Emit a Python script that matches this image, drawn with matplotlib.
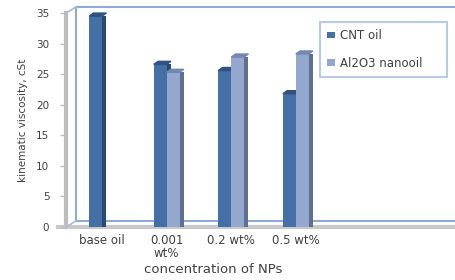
import matplotlib
matplotlib.use("Agg")
import matplotlib.pyplot as plt
import matplotlib.transforms as mtransforms
from matplotlib.patches import Rectangle, Patch, Polygon
from matplotlib.lines import Line2D
import numpy as np

categories = ["base oil", "0.001\nwt%", "0.2 wt%", "0.5 wt%"]
cnt_oil = [34.5, 26.6, 25.6, 21.8]
al2o3_nanooil = [np.nan, 25.3, 27.8, 28.3]
series_names = ["CNT oil", "Al2O3 nanooil"]
yticks = [0, 5, 10, 15, 20, 25, 30, 35]

front_colors = ["#4470a6", "#94a8cf"]
side_colors = ["#2b4a73", "#5f6f8d"]
top_colors = ["#2f5280", "#7388b0"]

W, H = 456, 280
fig = plt.figure(figsize=(W / 100, H / 100), dpi=100)
ax_l, ax_r, ax_t, ax_b = 66, 456, 13, 227
ax = fig.add_axes([ax_l / W, 1 - ax_b / H, (ax_r - ax_l) / W, (ax_b - ax_t) / H])

x = np.arange(len(categories))
w = 0.2
depth = 0.065
ax.set_xlim(-0.56, 5.48)
ax.set_ylim(0, 35)
dy_units = 35 * 3 / (ax_b - ax_t)

for i, (vals, off) in enumerate([(cnt_oil, -w / 2), (al2o3_nanooil, w / 2)]):
    xs = x + off
    v = np.array(vals, dtype=float)
    ax.bar(xs + w / 2 + depth / 2, v, width=depth, color=side_colors[i], zorder=2 + i)
    ax.bar(xs, v, width=w, color=front_colors[i], zorder=3 + i)
    for xi, vi in zip(xs, v):
        if np.isnan(vi):
            continue
        ax.add_patch(Polygon([[xi - w / 2, vi], [xi + w / 2, vi],
                              [xi + w / 2 + depth, vi + dy_units],
                              [xi - w / 2 + depth, vi + dy_units]],
                             closed=True, color=top_colors[i], zorder=3 + i,
                             clip_on=False))

for s in ax.spines.values():
    s.set_visible(False)
ax.patch.set_alpha(0)

off = mtransforms.ScaledTranslation(10 / 100, 6 / 100, fig.dpi_scale_trans)
wall = Rectangle((0, 0), 1.2, 1, transform=ax.transAxes + off, fill=False,
                 edgecolor="#8eaadb", lw=1.5, zorder=1, clip_on=False)
ax.add_patch(wall)
ax.add_line(Line2D([0, 0], [0, 1], transform=ax.transAxes, color="#bdbdbd",
                   lw=3, zorder=1, clip_on=False))
ax.add_line(Line2D([-0.02, 1.02], [0, 0], transform=ax.transAxes, color="#c8c8c8",
                   lw=3, zorder=1, clip_on=False))
inv = fig.transFigure.inverted()
for yy in (0, 1):
    p0 = ax.transAxes.transform((0, yy))
    p1 = p0 + np.array([10, 6])
    a, b = inv.transform(p0), inv.transform(p1)
    fig.add_artist(Line2D([a[0], b[0]], [a[1], b[1]], transform=fig.transFigure,
                          color="#a9b9d6", lw=1.2))

ax.set_yticks(yticks)
ax.set_yticklabels([str(t) for t in yticks])
ax.set_xticks(x)
ax.set_xticklabels(categories, linespacing=1.0)
ax.tick_params(axis="y", length=4, width=1, color="#bdbdbd", pad=8,
               labelsize=7.5, labelcolor="#404040")
ax.tick_params(axis="x", length=0, pad=5, labelsize=8.5, labelcolor="#404040")
for lbl in ax.get_xticklabels():
    lbl.set_verticalalignment("top")

ax.set_ylabel("kinematic viscosity, cSt", fontsize=7.5, color="#404040", labelpad=6)
ax.set_xlabel("concentration of NPs", fontsize=9.5, color="#404040")
ax.xaxis.set_label_coords(0.377, -0.17)

handles = [Patch(facecolor=front_colors[0]), Patch(facecolor=front_colors[1])]
leg = ax.legend(handles, series_names, loc="upper left", mode="expand",
                bbox_to_anchor=(320 / W, 1 - 77 / H, 127 / W, 55 / H),
                bbox_transform=fig.transFigure,
                fontsize=8.5, frameon=True, fancybox=False, labelspacing=1.25,
                handlelength=0.7, handleheight=0.5, handletextpad=0.4,
                borderpad=0.6, borderaxespad=0, labelcolor="#404040")
leg.get_frame().set_edgecolor("#a6bde0")
leg.get_frame().set_linewidth(1.5)

fig.savefig("out.png", dpi=100)
